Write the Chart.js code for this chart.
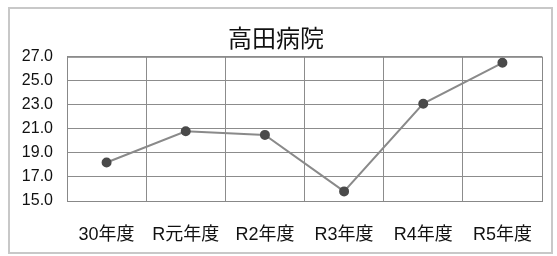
<!DOCTYPE html>
<html>
<head>
<meta charset="utf-8">
<script src="https://cdn.jsdelivr.net/npm/chart.js@4/dist/chart.umd.min.js"></script>
<style>
  body { margin: 0; background: #fff; }
  #wrap { width: 557px; height: 256px; }
</style>
</head>
<body>
<div id="wrap"><canvas id="chart" width="557" height="256"></canvas></div>
<script>
const categories = ["30年度", "R元年度", "R2年度", "R3年度", "R4年度", "R5年度"];
const values = [18.2, 20.8, 20.5, 15.8, 23.1, 26.5];
const yTicks = [15, 17, 19, 21, 23, 25, 27];

const fontFamily = '"Liberation Sans", "Noto Sans CJK JP", sans-serif';

// outer frame and plot-area border
const frame = {
    id: 'frame',
    beforeDraw(chart) {
        const ctx = chart.ctx;
        ctx.save();
        ctx.fillStyle = '#fff';
        ctx.fillRect(0, 0, chart.width, chart.height);
        ctx.strokeStyle = '#c8c8c8';
        ctx.lineWidth = 2;
        ctx.strokeRect(9, 8, chart.width - 14, chart.height - 11);
        ctx.restore();
    },
    beforeDatasetsDraw(chart) {
        const a = chart.chartArea;
        const ctx = chart.ctx;
        ctx.save();
        ctx.strokeStyle = '#888';
        ctx.lineWidth = 1;
        ctx.strokeRect(a.left + 0.5, a.top + 0.5, a.right - a.left, a.bottom - a.top);
        ctx.restore();
    }
};

new Chart(document.getElementById("chart").getContext("2d"), {
    type: 'line',
    data: {
        labels: categories,
        datasets: [{
            data: values,
            borderColor: '#8a8a8a',
            borderWidth: 2,
            pointBackgroundColor: '#4a4a4a',
            pointBorderColor: '#4a4a4a',
            pointRadius: 4,
            tension: 0
        }]
    },
    options: {
        responsive: false,
        animation: false,
        layout: { padding: { left: 10, right: 15, top: 0, bottom: 0 } },
        plugins: {
            legend: { display: false },
            tooltip: { enabled: false },
            title: {
                display: true,
                text: '高田病院',
                color: '#111',
                font: { family: fontFamily, size: 24, weight: 'normal' },
                padding: { top: 26, bottom: 2 }
            }
        },
        scales: {
            x: {
                offset: true,
                grid: { color: '#8c8c8c', offset: true, drawTicks: false },
                border: { color: '#888' },
                ticks: {
                    color: '#111',
                    padding: 23,
                    maxRotation: 0,
                    font: { family: fontFamily, size: 18 }
                },
                afterFit(scale) { scale.height = 55; }
            },
            y: {
                min: 15,
                max: 27,
                grid: { color: '#8c8c8c', drawTicks: false },
                border: { color: '#888' },
                afterBuildTicks(scale) { scale.ticks = yTicks.map(v => ({ value: v })); },
                ticks: {
                    color: '#111',
                    padding: 14,
                    font: { family: fontFamily, size: 16 },
                    callback: v => Number(v).toFixed(1)
                },
                afterFit(scale) { scale.width = 57; }
            }
        }
    },
    plugins: [frame]
});
</script>
</body>
</html>
